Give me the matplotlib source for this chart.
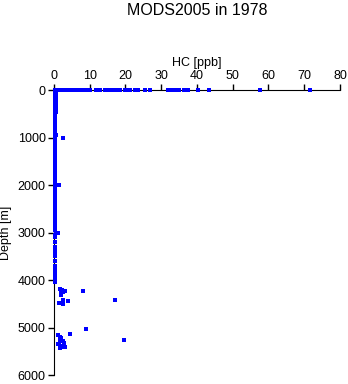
import matplotlib
matplotlib.use('Agg')
import matplotlib.pyplot as plt

plt.rcParams['font.family'] = ['Liberation Sans', 'DejaVu Sans']

# near-surface samples (depth ~0)
surf_hc = [0.2, 0.6, 1.0, 1.4, 1.8, 2.2, 2.6, 3.0, 3.4, 3.8, 4.2, 4.6, 5.0, 5.4,
           5.8, 6.2, 6.6, 7.0, 7.4, 7.8, 8.2, 8.6, 9.0, 9.4, 9.8, 10.2, 11.8,
           12.4, 13.0, 14.2, 15.0, 16.2, 17.2, 18.0, 18.6, 19.8, 20.6, 21.4,
           22.8, 23.4, 25.6, 27.0, 32.0, 32.6, 33.8, 35.0, 36.4, 37.6, 40.2,
           43.4, 57.6, 71.6]
surf_depth = [0, 5, 0, 8, 0, 5, 0, 8, 0, 5, 0, 8, 0, 5, 0, 8, 0, 5, 0, 8, 0, 5,
              0, 8, 0, 5, 0, 5, 0, 5, 0, 5, 0, 5, 0, 5, 0, 5, 0, 5, 0, 5, 0, 5,
              0, 5, 0, 5, 0, 5, 0, 5]

# water column samples (low HC)
col_depth = [20, 40, 60, 80, 100, 120, 140, 160, 180, 200, 230, 260, 290, 320,
             350, 380, 410, 440, 470, 500, 520, 600, 650, 700, 780, 820, 860,
             900, 950, 980, 1000, 1030, 1060, 1100, 1150, 1200, 1260, 1300,
             1350, 1400, 1450, 1500, 1560, 1600, 1650, 1700, 1760, 1800, 1850,
             1900, 1950, 2000, 2020, 2060, 2120, 2200, 2280, 2320, 2400, 2450,
             2500, 2560, 2600, 2650, 2700, 2760, 2800, 2850, 2900, 2950, 3000,
             3050, 3100, 3200, 3300, 3350, 3400, 3450, 3500, 3600, 3700, 3760,
             3800, 3900, 3950, 4000, 4050]
col_hc = [0.2, 0.5, 0.3, 0.6, 0.2, 0.4, 0.6, 0.3, 0.5, 0.2, 0.6, 0.4, 0.3, 0.5,
          0.2, 0.6, 0.4, 0.3, 0.5, 0.2, 0.4, 0.3, 0.2, 0.4, 0.3, 0.2, 0.4,
          0.3, 0.5, 0.2, 0.4, 0.3, 0.2, 0.4, 0.3, 0.2, 0.3, 0.4, 0.2, 0.3,
          0.4, 0.2, 0.3, 0.4, 0.2, 0.3, 0.4, 0.2, 0.3, 0.4, 0.2, 0.5, 0.3,
          0.2, 0.4, 0.3, 0.2, 0.4, 0.3, 0.2, 0.4, 0.3, 0.2, 0.4, 0.3, 0.2,
          0.4, 0.3, 0.2, 0.4, 0.6, 0.3, 0.2, 0.4, 0.3, 0.2, 0.4, 0.3, 0.2,
          0.4, 0.3, 0.2, 0.4, 0.3, 0.2, 0.4, 0.3]
extra_hc = [2.4, 1.5, 1.2, 1.1, 0.9]
extra_depth = [1010, 2000, 3010, 3020, 2010]

# deep samples
deep_hc = [8.2, 17.1, 9.0, 19.7, 4.4, 1.8, 2.2, 2.6, 3.0, 1.9, 2.4, 2.0, 2.6,
           4.0, 2.6, 1.3, 1.2, 1.8, 2.0, 1.6, 2.4, 2.8, 1.0, 1.4, 2.1, 3.0,
           2.6, 1.7]
deep_depth = [4240, 4415, 5040, 5255, 5130, 4180, 4200, 4230, 4225, 4280,
              4260, 4310, 4430, 4435, 4510, 4485, 5160, 5200, 5230, 5270,
              5290, 5330, 5350, 5340, 5380, 5420, 5410, 5430]

fig = plt.figure(figsize=(3.48, 3.84), dpi=100)
ax = fig.add_axes([0.155, 0.0234, 0.822, 0.7422])

ms = 2.5
for hc, dep in [(surf_hc, surf_depth), (col_hc, col_depth),
                (extra_hc, extra_depth), (deep_hc, deep_depth)]:
    ax.plot(hc, dep, 's', color='#0000ff', ms=ms, mew=0, clip_on=False, zorder=3)

ax.set_xlim(0, 80)
ax.set_ylim(6000, 0)
ax.xaxis.tick_top()
ax.xaxis.set_label_position('top')
ax.set_xticks(range(0, 81, 10))
ax.set_yticks(range(0, 6001, 1000))
ax.spines['right'].set_visible(False)
ax.spines['bottom'].set_visible(False)
ax.tick_params(direction='out', length=4, width=1, labelsize=9, pad=2)
ax.set_xlabel('HC [ppb]', fontsize=9, labelpad=3)
ax.set_ylabel('Depth [m]', fontsize=9, labelpad=4)
fig.text(0.566, 0.972, 'MODS2005 in 1978', ha='center', va='center', fontsize=11.5)

fig.savefig('out.png', dpi=100)
